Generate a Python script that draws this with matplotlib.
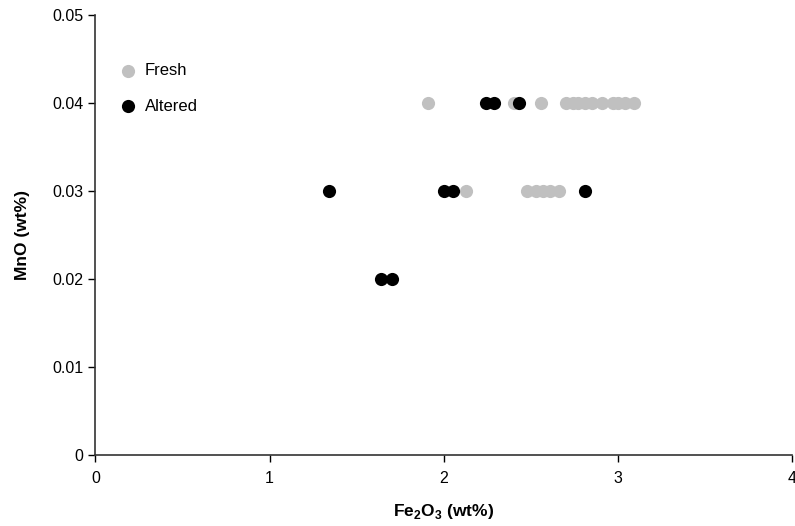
import matplotlib.pyplot as plt

plt.rcParams['font.family'] = ['Liberation Sans', 'DejaVu Sans']
plt.rcParams['mathtext.fontset'] = 'custom'
plt.rcParams['mathtext.rm'] = 'Liberation Sans'
plt.rcParams['mathtext.bf'] = 'Liberation Sans:bold'

# Fe2O3 / MnO (wt%) for the two sample groups
fresh_fe2o3 = [1.91, 2.40, 2.56, 2.70, 2.74, 2.77, 2.81, 2.85, 2.91, 2.97, 3.00, 3.04, 3.09,
               2.13, 2.48, 2.53, 2.57, 2.61, 2.66]
fresh_mno = [0.04, 0.04, 0.04, 0.04, 0.04, 0.04, 0.04, 0.04, 0.04, 0.04, 0.04, 0.04, 0.04,
             0.03, 0.03, 0.03, 0.03, 0.03, 0.03]

altered_fe2o3 = [2.24, 2.29, 2.43, 1.34, 2.00, 2.05, 2.81, 1.64, 1.70]
altered_mno = [0.04, 0.04, 0.04, 0.03, 0.03, 0.03, 0.03, 0.02, 0.02]

x_ticks = [0, 1, 2, 3, 4]
y_ticks = [0, 0.01, 0.02, 0.03, 0.04, 0.05]

fig = plt.figure(figsize=(7.95, 5.26), dpi=100)
ax = fig.add_axes([0.120, 0.1356, 0.8766, 0.8359])

ax.scatter(fresh_fe2o3, fresh_mno, s=90, color='#c0c0c0', linewidths=0, label='Fresh', zorder=3)
ax.scatter(altered_fe2o3, altered_mno, s=90, color='black', linewidths=0, label='Altered', zorder=4)

ax.set_xlim(0, 4)
ax.set_ylim(0, 0.05)
ax.set_xticks(x_ticks)
ax.set_xticklabels([str(v) for v in x_ticks])
ax.set_yticks(y_ticks)
ax.set_yticklabels(['0', '0.01', '0.02', '0.03', '0.04', '0.05'])
ax.tick_params(direction='out', length=5, width=1, labelsize=11.5, colors='black')
ax.tick_params(axis='x', pad=7)

for side in ['top', 'right']:
    ax.spines[side].set_visible(False)
for side in ['left', 'bottom']:
    ax.spines[side].set_linewidth(1.2)
    ax.spines[side].set_color('#333333')

ax.set_xlabel(r'Fe$_\mathbf{2}$O$_\mathbf{3}$ (wt%)', fontsize=12.5, fontweight='bold', labelpad=11)
ax.set_ylabel('MnO (wt%)', fontsize=12.5, fontweight='bold', labelpad=16)

ax.legend(loc='upper left', bbox_to_anchor=(0.0015, 0.925), frameon=False, fontsize=12,
          handletextpad=0.0, labelspacing=1.25, scatterpoints=1)

fig.savefig('out.png', dpi=100)
